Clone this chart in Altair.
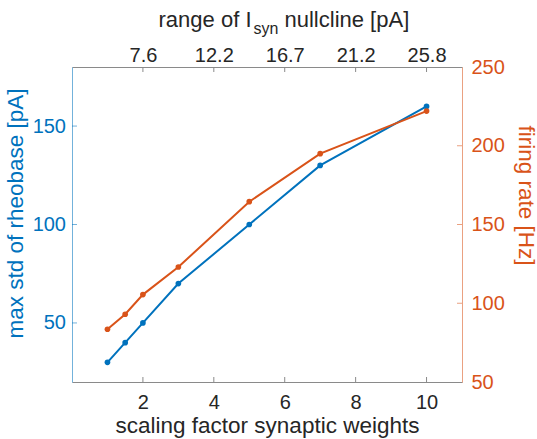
import altair as alt
import pandas as pd

# Scaling factor of the synaptic weights and the two measured quantities
scaling = [1, 1.5, 2, 3, 5, 7, 10]
rheobase_std = [30, 40, 50, 70, 100, 130, 160]
firing_rate = [83.5, 93, 105.5, 123, 164.5, 195, 222]

# Axis tick positions and the labels of the secondary (top) axis
x_ticks = [2, 4, 6, 8, 10]
top_tick_labels = ["7.6", "12.2", "16.7", "21.2", "25.8"]
left_ticks = [50, 100, 150]
right_ticks = [50, 100, 150, 200, 250]

BLUE = "#0072BD"
ORANGE = "#D95319"
TEXT = "#262626"
GRAY = "#8a8a8a"
FONT = "Liberation Sans"
W, H = 390, 315
TICK = 5

df = pd.DataFrame({"x": scaling, "std": rheobase_std, "rate": firing_rate})

xs = alt.Scale(domain=[0, 11], nice=False, zero=False)
ys_left = alt.Scale(domain=[20, 180], nice=False, zero=False)
ys_right = alt.Scale(domain=[50, 250], nice=False, zero=False)

common_axis = dict(grid=False, ticks=False, tickSize=0, labelFont=FONT,
                   titleFont=FONT, labelFontSize=20, titleFontSize=22.5,
                   titleFontWeight="normal", domainWidth=1)

# Blue series: left axis + bottom axis
blue = alt.Chart(df).mark_line(
    color=BLUE, strokeWidth=2,
    point=alt.OverlayMarkDef(filled=True, size=32, color=BLUE, opacity=1),
).encode(
    x=alt.X("x:Q", scale=xs, axis=alt.Axis(
        orient="bottom", values=x_ticks, title="scaling factor synaptic weights",
        labelColor=TEXT, titleColor=TEXT, domainColor=GRAY, labelPadding=10.5,
        titleY=32, titleBaseline="top", **common_axis)),
    y=alt.Y("std:Q", scale=ys_left, axis=alt.Axis(
        orient="left", values=left_ticks, title="max std of rheobase [pA]",
        labelColor=BLUE, titleColor=BLUE, domainColor=BLUE, domainOpacity=0.55,
        labelPadding=6.5, titleAngle=270, titleX=-50, titleY=146,
        titleBaseline="alphabetic", titleAlign="center", **common_axis)),
)

# Orange series: right axis
orange = alt.Chart(df).mark_line(
    color=ORANGE, strokeWidth=2,
    point=alt.OverlayMarkDef(filled=True, size=32, color=ORANGE, opacity=1),
).encode(
    x=alt.X("x:Q", scale=xs, axis=None),
    y=alt.Y("rate:Q", scale=ys_right, axis=alt.Axis(
        orient="right", values=right_ticks, title="firing rate [Hz]",
        labelColor=ORANGE, titleColor=ORANGE, domainColor=ORANGE, domainOpacity=0.55,
        labelPadding=9, titleAngle=90, titleX=56, titleY=128,
        titleBaseline="alphabetic", titleAlign="center", **common_axis)),
)

# Inward tick marks
lt = pd.DataFrame({"v": left_ticks})
rt = pd.DataFrame({"v": right_ticks[1:-1]})
xt = pd.DataFrame({"v": x_ticks})

left_tick_marks = alt.Chart(lt).mark_rule(color=BLUE, opacity=0.55).encode(
    y=alt.Y("v:Q", scale=ys_left, axis=None),
    x=alt.value(0), x2=alt.value(TICK))
right_tick_marks = alt.Chart(rt).mark_rule(color=ORANGE, opacity=0.55).encode(
    y=alt.Y("v:Q", scale=ys_right, axis=None),
    x=alt.value(W - TICK), x2=alt.value(W))
bottom_tick_marks = alt.Chart(xt).mark_rule(color=GRAY).encode(
    x=alt.X("v:Q", scale=xs, axis=None),
    y=alt.value(H), y2=alt.value(H - TICK))

# Top axis: same positions, labelled with the nullcline range
label_expr = " : ".join(
    f"datum.value == {v} ? '{lab}'" for v, lab in zip(x_ticks, top_tick_labels)
) + " : ''"
top_tick_marks = alt.Chart(xt).mark_rule(color=GRAY).encode(
    x=alt.X("v:Q", scale=xs, axis=alt.Axis(
        orient="top", values=x_ticks, labelExpr=label_expr, title=None,
        labelColor=TEXT, domainColor=GRAY, labelPadding=2, **common_axis)),
    y=alt.value(0), y2=alt.value(TICK))

# Top axis title with subscript
one = pd.DataFrame({"a": [0]})
t1 = alt.Chart(one).mark_text(text="range of I", align="right", baseline="alphabetic",
                              font=FONT, fontSize=22, color=TEXT).encode(
    x=alt.value(179.5), y=alt.value(-40.3))
t2 = alt.Chart(one).mark_text(text="syn", align="left", baseline="alphabetic",
                              font=FONT, fontSize=16, color=TEXT).encode(
    x=alt.value(181.5), y=alt.value(-33.5))
t3 = alt.Chart(one).mark_text(text="nullcline [pA]", align="left", baseline="alphabetic",
                              font=FONT, fontSize=22, color=TEXT).encode(
    x=alt.value(212.5), y=alt.value(-40.3))

chart = alt.layer(
    blue, orange, left_tick_marks, right_tick_marks,
    bottom_tick_marks, top_tick_marks, t1, t2, t3,
).resolve_scale(
    x="independent", y="independent"
).resolve_axis(
    x="independent", y="independent"
).properties(
    width=W, height=H,
    autosize=alt.AutoSizeParams(type="none"),
    padding={"left": 72, "top": 67, "right": 537 - 72 - W, "bottom": 439 - 67 - H},
    background="white",
).configure_view(stroke=None)

chart.save("out.html", embed_options={"renderer": "svg", "actions": False})
